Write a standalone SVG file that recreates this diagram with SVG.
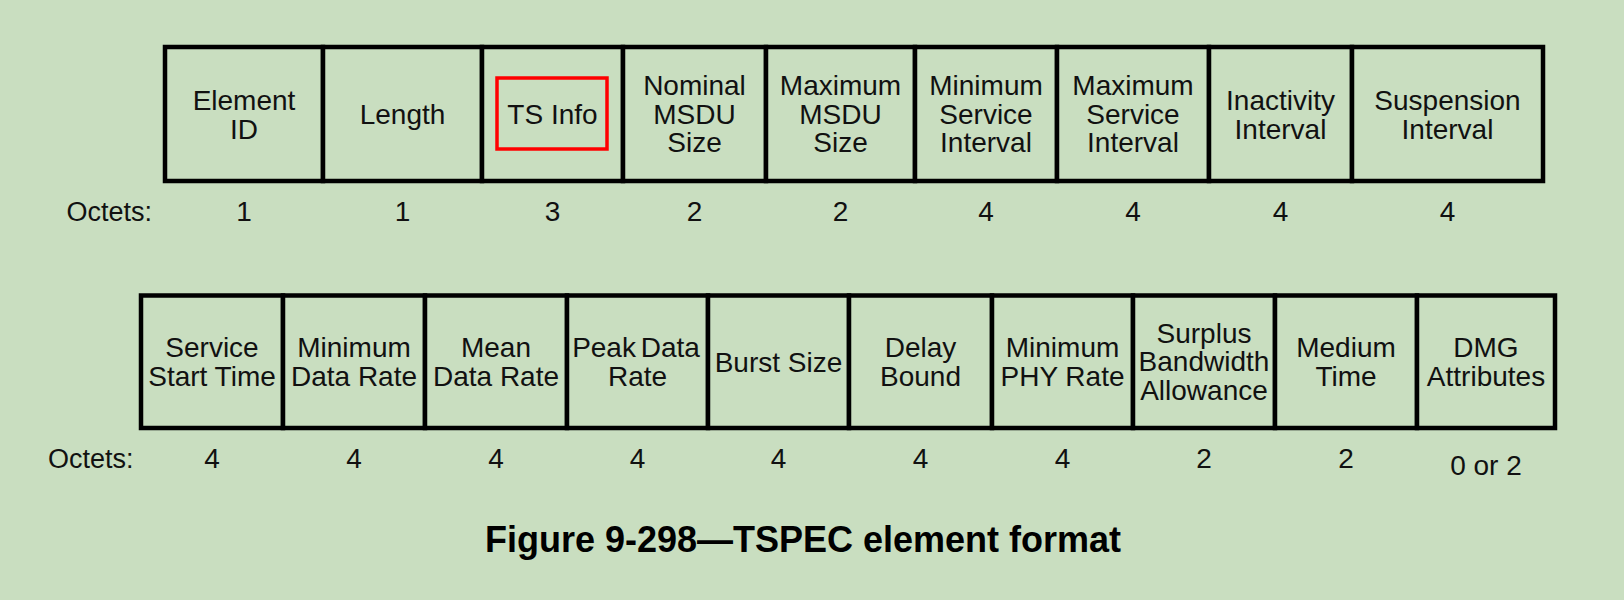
<svg xmlns="http://www.w3.org/2000/svg" width="1624" height="600" viewBox="0 0 1624 600">
<style>
.bg{fill:#c9dec0}
.cell{fill:#c9dec0;stroke:#000;stroke-width:4.5}
.t{font-family:"Liberation Sans",Arial,sans-serif;font-size:28px;fill:#111;text-anchor:middle}
.o{font-family:"Liberation Sans",Arial,sans-serif;font-size:27px;fill:#111}
.cap{font-family:"Liberation Sans",Arial,sans-serif;font-size:36px;font-weight:bold;fill:#000;text-anchor:middle}
.hl{fill:none;stroke:#ff0000;stroke-width:3.5}
</style>
<rect class="bg" x="0" y="0" width="1624" height="600"/>

<g id="row1">
<g id="element-id"><rect class="cell" x="165" y="47" width="158" height="134"/><text class="t"><tspan x="244" y="110">Element</tspan><tspan x="244" y="139">ID</tspan></text></g>
<g id="length"><rect class="cell" x="323" y="47" width="159" height="134"/><text class="t" x="402.5" y="124">Length</text></g>
<g id="ts-info"><rect class="cell" x="482" y="47" width="141" height="134"/><rect class="hl" x="497" y="78" width="110" height="71"/><text class="t" x="552.5" y="123.5">TS Info</text></g>
<g id="nominal-msdu-size"><rect class="cell" x="623" y="47" width="143" height="134"/><text class="t"><tspan x="694.5" y="94.5">Nominal</tspan><tspan x="694.5" y="123.5">MSDU</tspan><tspan x="694.5" y="152">Size</tspan></text></g>
<g id="maximum-msdu-size"><rect class="cell" x="766" y="47" width="149" height="134"/><text class="t"><tspan x="840.5" y="94.5">Maximum</tspan><tspan x="840.5" y="123.5">MSDU</tspan><tspan x="840.5" y="152">Size</tspan></text></g>
<g id="minimum-service-interval"><rect class="cell" x="915" y="47" width="142" height="134"/><text class="t"><tspan x="986" y="94.5">Minimum</tspan><tspan x="986" y="123.5">Service</tspan><tspan x="986" y="152">Interval</tspan></text></g>
<g id="maximum-service-interval"><rect class="cell" x="1057" y="47" width="152" height="134"/><text class="t"><tspan x="1133" y="94.5">Maximum</tspan><tspan x="1133" y="123.5">Service</tspan><tspan x="1133" y="152">Interval</tspan></text></g>
<g id="inactivity-interval"><rect class="cell" x="1209" y="47" width="143" height="134"/><text class="t"><tspan x="1280.5" y="110">Inactivity</tspan><tspan x="1280.5" y="139">Interval</tspan></text></g>
<g id="suspension-interval"><rect class="cell" x="1352" y="47" width="191" height="134"/><text class="t"><tspan x="1447.5" y="110">Suspension</tspan><tspan x="1447.5" y="139">Interval</tspan></text></g>
</g>

<g id="octets1">
<text class="o" x="66.5" y="220.7">Octets:</text>
<text class="t" x="244" y="220.7">1</text>
<text class="t" x="402.5" y="220.7">1</text>
<text class="t" x="552.5" y="220.7">3</text>
<text class="t" x="694.5" y="220.7">2</text>
<text class="t" x="840.5" y="220.7">2</text>
<text class="t" x="986" y="220.7">4</text>
<text class="t" x="1133" y="220.7">4</text>
<text class="t" x="1280.5" y="220.7">4</text>
<text class="t" x="1447.5" y="220.7">4</text>
</g>

<g id="row2">
<g id="service-start-time"><rect class="cell" x="141" y="295.5" width="142" height="132.5"/><text class="t"><tspan x="212" y="357">Service</tspan><tspan x="212" y="386">Start Time</tspan></text></g>
<g id="minimum-data-rate"><rect class="cell" x="283" y="295.5" width="142" height="132.5"/><text class="t"><tspan x="354" y="357">Minimum</tspan><tspan x="354" y="386">Data Rate</tspan></text></g>
<g id="mean-data-rate"><rect class="cell" x="425" y="295.5" width="142" height="132.5"/><text class="t"><tspan x="496" y="357">Mean</tspan><tspan x="496" y="386">Data Rate</tspan></text></g>
<g id="peak-data-rate"><rect class="cell" x="567" y="295.5" width="141" height="132.5"/><text class="t"><tspan x="636" y="357" word-spacing="-3">Peak Data</tspan><tspan x="637.5" y="386">Rate</tspan></text></g>
<g id="burst-size"><rect class="cell" x="708" y="295.5" width="141" height="132.5"/><text class="t" x="778.5" y="371.5">Burst Size</text></g>
<g id="delay-bound"><rect class="cell" x="849" y="295.5" width="143" height="132.5"/><text class="t"><tspan x="920.5" y="357">Delay</tspan><tspan x="920.5" y="386">Bound</tspan></text></g>
<g id="minimum-phy-rate"><rect class="cell" x="992" y="295.5" width="141" height="132.5"/><text class="t"><tspan x="1062.5" y="357">Minimum</tspan><tspan x="1062.5" y="386">PHY Rate</tspan></text></g>
<g id="surplus-bandwidth-allowance"><rect class="cell" x="1133" y="295.5" width="142" height="132.5"/><text class="t"><tspan x="1204" y="342.5">Surplus</tspan><tspan x="1204" y="371">Bandwidth</tspan><tspan x="1204" y="399.5">Allowance</tspan></text></g>
<g id="medium-time"><rect class="cell" x="1275" y="295.5" width="142" height="132.5"/><text class="t"><tspan x="1346" y="357">Medium</tspan><tspan x="1346" y="386">Time</tspan></text></g>
<g id="dmg-attributes"><rect class="cell" x="1417" y="295.5" width="138" height="132.5"/><text class="t"><tspan x="1486" y="357">DMG</tspan><tspan x="1486" y="386">Attributes</tspan></text></g>
</g>

<g id="octets2">
<text class="o" x="48" y="468.3">Octets:</text>
<text class="t" x="212" y="468.3">4</text>
<text class="t" x="354" y="468.3">4</text>
<text class="t" x="496" y="468.3">4</text>
<text class="t" x="637.5" y="468.3">4</text>
<text class="t" x="778.5" y="468.3">4</text>
<text class="t" x="920.5" y="468.3">4</text>
<text class="t" x="1062.5" y="468.3">4</text>
<text class="t" x="1204" y="468.3">2</text>
<text class="t" x="1346" y="468.3">2</text>
<text class="t" x="1486" y="475">0 or 2</text>
</g>

<g id="connectors"></g>

<text id="caption" class="cap" x="803" y="552">Figure 9-298—TSPEC element format</text>
</svg>
